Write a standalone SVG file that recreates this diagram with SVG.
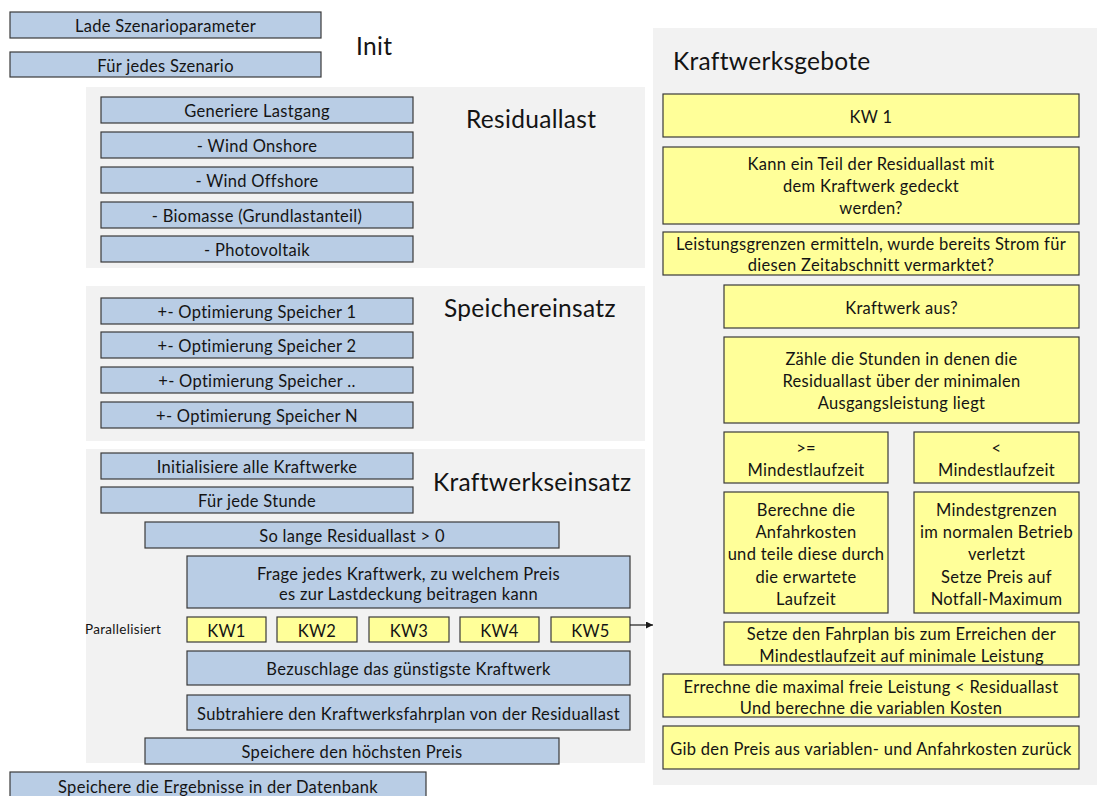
<svg xmlns="http://www.w3.org/2000/svg" width="1097" height="796" viewBox="0 0 1097 796">
  <style>
    text { font-family: Lato, "Open Sans", "Liberation Sans", sans-serif; fill: #141414; }
    .panel { fill: #f2f2f2; stroke: none; }
    .blue { fill: #b9cde5; stroke: #3a3a3a; stroke-width: 1.2; }
    .yellow { fill: #ffff99; stroke: #3a3a3a; stroke-width: 1.2; }
    .t { font-size: 16.5px; letter-spacing: 0.3px; text-anchor: middle; dominant-baseline: central; transform: translateY(1px); }
    .title { font-size: 24.5px; letter-spacing: 0.3px; dominant-baseline: central; }
    .small { font-size: 13.5px; letter-spacing: 0.3px; dominant-baseline: central; }
    .conn { stroke: #1a1a1a; stroke-width: 1.2; fill: none; }
  </style>
  <defs>
    <marker id="arrow" viewBox="0 0 10 10" refX="10" refY="5" markerWidth="7" markerHeight="7" markerUnits="userSpaceOnUse" orient="auto">
      <path d="M0,0 L10,5 L0,10 z" fill="#1a1a1a"/>
    </marker>
  </defs>

  <rect width="1097" height="796" fill="#ffffff"/>

  <!-- section backgrounds -->
  <g id="panels">
    <rect class="panel" x="86" y="87" width="559" height="181"/>
    <rect class="panel" x="86" y="286" width="559" height="155"/>
    <rect class="panel" x="86" y="449" width="559" height="314"/>
    <rect class="panel" x="653" y="28" width="444" height="757"/>
  </g>

  <!-- section titles -->
  <g id="titles">
    <text class="title" x="356" y="45">Init</text>
    <text class="title" x="466" y="118">Residuallast</text>
    <text class="title" x="444" y="307">Speichereinsatz</text>
    <text class="title" x="433" y="481">Kraftwerkseinsatz</text>
    <text class="title" x="673" y="60">Kraftwerksgebote</text>
    <text class="small" x="85" y="629">Parallelisiert</text>
  </g>

  <!-- Init -->
  <g id="lade-szenarioparameter">
    <rect class="blue" x="10" y="12" width="311" height="26"/>
    <text class="t" x="165.5" y="25">Lade Szenarioparameter</text>
  </g>
  <g id="fuer-jedes-szenario">
    <rect class="blue" x="10" y="52" width="311" height="25"/>
    <text class="t" x="165.5" y="64.5">Für jedes Szenario</text>
  </g>

  <!-- Residuallast -->
  <g id="generiere-lastgang">
    <rect class="blue" x="101" y="97" width="312" height="26"/>
    <text class="t" x="257" y="110">Generiere Lastgang</text>
  </g>
  <g id="wind-onshore">
    <rect class="blue" x="101" y="132" width="312" height="26"/>
    <text class="t" x="257" y="145">- Wind Onshore</text>
  </g>
  <g id="wind-offshore">
    <rect class="blue" x="101" y="167" width="312" height="26"/>
    <text class="t" x="257" y="180">- Wind Offshore</text>
  </g>
  <g id="biomasse">
    <rect class="blue" x="101" y="202" width="312" height="26"/>
    <text class="t" x="257" y="215">- Biomasse (Grundlastanteil)</text>
  </g>
  <g id="photovoltaik">
    <rect class="blue" x="101" y="236" width="312" height="26"/>
    <text class="t" x="257" y="249">- Photovoltaik</text>
  </g>

  <!-- Speichereinsatz -->
  <g id="speicher-1">
    <rect class="blue" x="101" y="298" width="312" height="26"/>
    <text class="t" x="257" y="311">+- Optimierung Speicher 1</text>
  </g>
  <g id="speicher-2">
    <rect class="blue" x="101" y="332" width="312" height="26"/>
    <text class="t" x="257" y="345">+- Optimierung Speicher 2</text>
  </g>
  <g id="speicher-dots">
    <rect class="blue" x="101" y="367" width="312" height="26"/>
    <text class="t" x="257" y="380">+- Optimierung Speicher ..</text>
  </g>
  <g id="speicher-n">
    <rect class="blue" x="101" y="402" width="312" height="26"/>
    <text class="t" x="257" y="415">+- Optimierung Speicher N</text>
  </g>

  <!-- Kraftwerkseinsatz -->
  <g id="initialisiere">
    <rect class="blue" x="101" y="453" width="312" height="26"/>
    <text class="t" x="257" y="466">Initialisiere alle Kraftwerke</text>
  </g>
  <g id="fuer-jede-stunde">
    <rect class="blue" x="101" y="487" width="312" height="26"/>
    <text class="t" x="257" y="500">Für jede Stunde</text>
  </g>
  <g id="so-lange">
    <rect class="blue" x="145" y="522" width="414" height="26"/>
    <text class="t" x="352" y="535">So lange Residuallast &gt; 0</text>
  </g>
  <g id="frage-kraftwerk">
    <rect class="blue" x="187" y="556" width="443" height="52"/>
    <text class="t" x="408.5" y="573">Frage jedes Kraftwerk, zu welchem Preis</text>
    <text class="t" x="408.5" y="593">es zur Lastdeckung beitragen kann</text>
  </g>
  <g id="kw1">
    <rect class="yellow" x="187" y="617" width="79" height="25"/>
    <text class="t" x="226.5" y="629.5">KW1</text>
  </g>
  <g id="kw2">
    <rect class="yellow" x="277" y="617" width="80" height="25"/>
    <text class="t" x="317" y="629.5">KW2</text>
  </g>
  <g id="kw3">
    <rect class="yellow" x="369" y="617" width="80" height="25"/>
    <text class="t" x="409" y="629.5">KW3</text>
  </g>
  <g id="kw4">
    <rect class="yellow" x="460" y="617" width="79" height="25"/>
    <text class="t" x="499.5" y="629.5">KW4</text>
  </g>
  <g id="kw5">
    <rect class="yellow" x="551" y="617" width="79" height="25"/>
    <text class="t" x="590.5" y="629.5">KW5</text>
  </g>
  <g id="bezuschlage">
    <rect class="blue" x="187" y="651" width="443" height="34"/>
    <text class="t" x="408.5" y="668">Bezuschlage das günstigste Kraftwerk</text>
  </g>
  <g id="subtrahiere">
    <rect class="blue" x="187" y="695" width="443" height="35"/>
    <text class="t" x="408.5" y="712.5">Subtrahiere den Kraftwerksfahrplan von der Residuallast</text>
  </g>
  <g id="speichere-preis">
    <rect class="blue" x="145" y="738" width="414" height="26"/>
    <text class="t" x="352" y="751">Speichere den höchsten Preis</text>
  </g>
  <g id="speichere-datenbank">
    <rect class="blue" x="10" y="772" width="416" height="28"/>
    <text class="t" x="218" y="786">Speichere die Ergebnisse in der Datenbank</text>
  </g>

  <!-- Kraftwerksgebote -->
  <g id="kw-1">
    <rect class="yellow" x="663" y="94" width="416" height="43"/>
    <text class="t" x="871" y="115.5">KW 1</text>
  </g>
  <g id="kann-decken">
    <rect class="yellow" x="663" y="147" width="416" height="77"/>
    <text class="t" x="871" y="163">Kann ein Teil der Residuallast mit</text>
    <text class="t" x="871" y="185">dem Kraftwerk gedeckt</text>
    <text class="t" x="871" y="207">werden?</text>
  </g>
  <g id="leistungsgrenzen">
    <rect class="yellow" x="663" y="232" width="416" height="43"/>
    <text class="t" x="871" y="243">Leistungsgrenzen ermitteln, wurde bereits Strom für</text>
    <text class="t" x="871" y="264">diesen Zeitabschnitt vermarktet?</text>
  </g>
  <g id="kraftwerk-aus">
    <rect class="yellow" x="724" y="285" width="355" height="43"/>
    <text class="t" x="901.5" y="306.5">Kraftwerk aus?</text>
  </g>
  <g id="zaehle-stunden">
    <rect class="yellow" x="724" y="337" width="355" height="86"/>
    <text class="t" x="901.5" y="358">Zähle die Stunden in denen die</text>
    <text class="t" x="901.5" y="380">Residuallast über der minimalen</text>
    <text class="t" x="901.5" y="402">Ausgangsleistung liegt</text>
  </g>
  <g id="groesser-gleich">
    <rect class="yellow" x="724" y="432" width="164" height="51"/>
    <text class="t" x="806" y="447">&gt;=</text>
    <text class="t" x="806" y="469">Mindestlaufzeit</text>
  </g>
  <g id="kleiner">
    <rect class="yellow" x="914" y="432" width="165" height="51"/>
    <text class="t" x="996.5" y="447">&lt;</text>
    <text class="t" x="996.5" y="469">Mindestlaufzeit</text>
  </g>
  <g id="berechne-anfahrkosten">
    <rect class="yellow" x="724" y="492" width="164" height="121"/>
    <text class="t" x="806" y="509">Berechne die</text>
    <text class="t" x="806" y="531">Anfahrkosten</text>
    <text class="t" x="806" y="553">und teile diese durch</text>
    <text class="t" x="806" y="576">die erwartete</text>
    <text class="t" x="806" y="598">Laufzeit</text>
  </g>
  <g id="mindestgrenzen">
    <rect class="yellow" x="914" y="492" width="165" height="121"/>
    <text class="t" x="996.5" y="509">Mindestgrenzen</text>
    <text class="t" x="996.5" y="531">im normalen Betrieb</text>
    <text class="t" x="996.5" y="553">verletzt</text>
    <text class="t" x="996.5" y="576">Setze Preis auf</text>
    <text class="t" x="996.5" y="598">Notfall-Maximum</text>
  </g>
  <g id="setze-fahrplan">
    <rect class="yellow" x="724" y="622" width="355" height="43"/>
    <text class="t" x="901.5" y="633">Setze den Fahrplan bis zum Erreichen der</text>
    <text class="t" x="901.5" y="655">Mindestlaufzeit auf minimale Leistung</text>
  </g>
  <g id="errechne-leistung">
    <rect class="yellow" x="663" y="674" width="416" height="43"/>
    <text class="t" x="871" y="686">Errechne die maximal freie Leistung &lt; Residuallast</text>
    <text class="t" x="871" y="707">Und berechne die variablen Kosten</text>
  </g>
  <g id="gib-preis">
    <rect class="yellow" x="663" y="726" width="416" height="43"/>
    <text class="t" x="871" y="747.5">Gib den Preis aus variablen- und Anfahrkosten  zurück</text>
  </g>

  <!-- connectors -->
  <g id="connectors">
    <line class="conn" x1="630" y1="625" x2="653" y2="625" marker-end="url(#arrow)"/>
  </g>
</svg>
